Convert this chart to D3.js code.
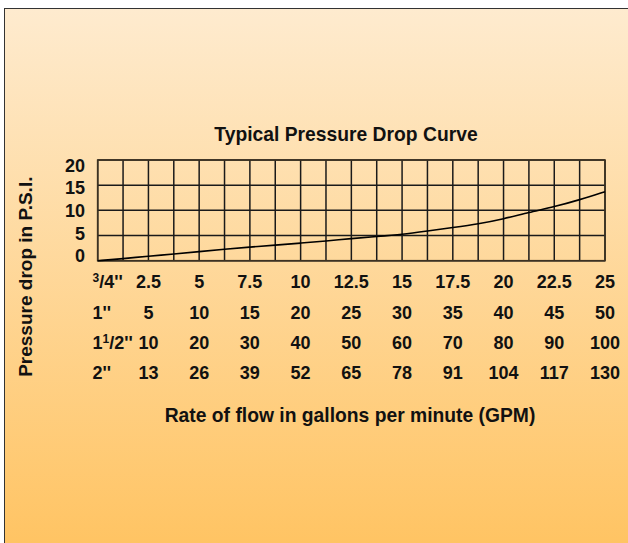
<!DOCTYPE html>
<html>
<head>
<meta charset="utf-8">
<script src="https://cdn.jsdelivr.net/npm/d3@7"></script>
<style>
  html, body { margin: 0; padding: 0; background: #fff; }
  svg { display: block; }
  text { font-family: "Liberation Sans", Arial, Helvetica, sans-serif; font-weight: bold; fill: #111; }
</style>
</head>
<body>
<svg id="chart" width="628" height="543"></svg>
<script>
// ---- data ----
const titleText = "Typical Pressure Drop Curve";
const yAxisTitle = "Pressure drop in P.S.I.";
const xAxisTitle = "Rate of flow in gallons per minute (GPM)";

// curve: flow in 3/4" GPM vs pressure drop (psi)
const curveFlow = [0, 1.25, 2.5, 3.75, 5, 6.25, 7.5, 8.75, 10, 11.25, 12.5, 13.75, 15, 16.25, 17.5, 18.75, 20, 21.25, 22.5, 23.75, 25];
const curvePsi  = [0, 0.4, 0.9, 1.3, 1.8, 2.3, 2.7, 3.1, 3.5, 3.9, 4.4, 4.8, 5.2, 5.9, 6.6, 7.3, 8.3, 9.6, 10.7, 12.1, 13.7];

const yTicks = [0, 5, 10, 15, 20];

// flow table per pipe size
const flow34  = [2.5, 5, 7.5, 10, 12.5, 15, 17.5, 20, 22.5, 25];
const flow1   = [5, 10, 15, 20, 25, 30, 35, 40, 45, 50];
const flow112 = [10, 20, 30, 40, 50, 60, 70, 80, 90, 100];
const flow2   = [13, 26, 39, 52, 65, 78, 91, 104, 117, 130];
const flowRows = [flow34, flow1, flow112, flow2];
// pipe size labels: [main, superscript, rest]
const sizeLabels = [["", "3", "/4''"], ["1''", "", ""], ["1", "1", "/2''"], ["2''", "", ""]];

// ---- drawing ----
const svg = d3.select("#chart");

const defs = svg.append("defs");
const grad = defs.append("linearGradient").attr("id", "bg").attr("x1", 0).attr("y1", 0).attr("x2", 0).attr("y2", 1);
grad.append("stop").attr("offset", "0%").attr("stop-color", "#FEEBCF");
grad.append("stop").attr("offset", "100%").attr("stop-color", "#FFC25E");

svg.append("rect").attr("x", 4.5).attr("y", 8.5).attr("width", 640).attr("height", 560)
  .attr("fill", "url(#bg)").attr("stroke", "#333").attr("stroke-width", 1);

const pLeft = 97.7, pRight = 605, pTop = 160, pBottom = 260.7;
const x = d3.scaleLinear().domain([0, 25]).range([pLeft, pRight]);
const y = d3.scaleLinear().domain([0, 20]).range([pBottom, pTop]);
const yLabel = d3.scaleLinear().domain([0, 20]).range([256, 165.5]);

const g = svg.append("g");
// grid
const xGrid = d3.range(0, 25.001, 1.25);
g.selectAll("line.vx").data(xGrid).enter().append("line")
  .attr("x1", d => x(d)).attr("x2", d => x(d)).attr("y1", pTop).attr("y2", pBottom)
  .attr("stroke", "#1a1a1a").attr("stroke-width", 1.5);
g.selectAll("line.hy").data(yTicks).enter().append("line")
  .attr("x1", pLeft).attr("x2", pRight).attr("y1", d => y(d)).attr("y2", d => y(d))
  .attr("stroke", "#1a1a1a").attr("stroke-width", 1.5);
g.append("rect").attr("x", pLeft).attr("y", pTop).attr("width", pRight - pLeft).attr("height", pBottom - pTop)
  .attr("fill", "none").attr("stroke", "#3d3222").attr("stroke-width", 1.6);

// curve
const line = d3.line().x((d, i) => x(curveFlow[i])).y(d => y(d)).curve(d3.curveBasis);
g.append("path").attr("d", line(curvePsi)).attr("fill", "none").attr("stroke", "#000").attr("stroke-width", 1.6);

// y tick labels
svg.selectAll("text.yt").data(yTicks).enter().append("text")
  .attr("x", 85).attr("y", d => yLabel(d) + 6.2).attr("text-anchor", "end")
  .attr("font-size", 18).text(d => d);

// title
svg.append("text").attr("x", 346).attr("y", 140.7).attr("text-anchor", "middle")
  .attr("font-size", 19.3).text(titleText);

// y axis title
svg.append("text").attr("transform", "translate(32,276.7) rotate(-90)")
  .attr("text-anchor", "middle").attr("font-size", 19).text(yAxisTitle);

// x axis title
svg.append("text").attr("x", 350).attr("y", 422).attr("text-anchor", "middle")
  .attr("font-size", 19.3).text(xAxisTitle);

// table
const rowBase = [287.5, 318.5, 348.5, 378.5];
flowRows.forEach((row, r) => {
  svg.selectAll("text.r" + r).data(row).enter().append("text")
    .attr("x", (d, i) => x(flow34[i])).attr("y", rowBase[r])
    .attr("text-anchor", "middle").attr("font-size", 18).text(d => d);
  const lab = sizeLabels[r];
  const t = svg.append("text").attr("x", 92.5).attr("y", rowBase[r]).attr("font-size", 18);
  if (lab[0]) t.append("tspan").text(lab[0]);
  if (lab[1]) t.append("tspan").attr("font-size", 12).attr("dy", -6).text(lab[1]);
  if (lab[2]) t.append("tspan").attr("dy", lab[1] ? 6 : 0).text(lab[2]);
});
</script>
</body>
</html>
